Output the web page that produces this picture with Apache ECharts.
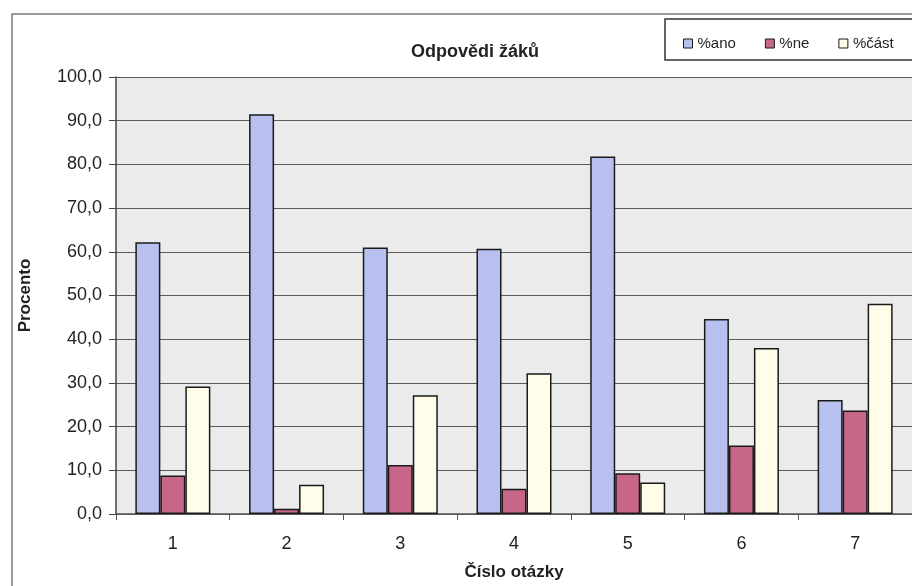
<!DOCTYPE html>
<html>
<head>
<meta charset="utf-8">
<script src="https://cdn.jsdelivr.net/npm/echarts@6/dist/echarts.min.js"></script>
<style>html,body{margin:0;padding:0;background:#fff;}#c{width:912px;height:586px;}</style>
</head>
<body>
<div id="c"></div>
<script>
const categories = ['1', '2', '3', '4', '5', '6', '7'];
const seriesNames = ['%ano', '%ne', '%část'];
const ano = [62.2, 91.5, 61.0, 60.7, 81.8, 44.6, 26.1];
const ne = [8.8, 1.2, 11.2, 5.8, 9.3, 15.7, 23.7];
const cast = [29.2, 6.7, 27.2, 32.2, 7.2, 38.0, 48.1];
const yTicks = [0, 10, 20, 30, 40, 50, 60, 70, 80, 90, 100];

const font = 'Liberation Sans, Arial, sans-serif';
const colors = ['#b8c0f0', '#c8668a', '#fffdea'];
const chart = echarts.init(document.getElementById('c'));
const mk = (name, data, i) => ({
  name, type: 'bar', data, barWidth: 25, barGap: '0%',
  itemStyle: { color: colors[i], borderColor: '#1a1a1a', borderWidth: 1.5 },
  emphasis: { disabled: true }
});
chart.setOption({
  animation: false,
  textStyle: { fontFamily: font },
  graphic: [
    { type: 'rect', shape: { x: 12, y: 14, width: 1000, height: 700 }, style: { fill: 'none', stroke: '#7a7a7a', lineWidth: 1.5 }, z: -1 },
    { type: 'rect', shape: { x: 665, y: 19, width: 300, height: 41 }, style: { fill: '#fff', stroke: '#333', lineWidth: 1.5 }, z: 0 }
  ],
  title: {
    text: 'Odpovědi žáků', left: 470, top: 38, textAlign: 'center',
    textStyle: { fontFamily: font, fontSize: 18, fontWeight: 'bold', color: '#222' }
  },
  legend: {
    data: seriesNames, left: 678, top: 31, width: 400, orient: 'horizontal',
    itemWidth: 9, itemHeight: 9, itemGap: 29,
    icon: 'rect', z: 5,
    itemStyle: { borderWidth: 1 },
    textStyle: { fontFamily: font, fontSize: 15, color: '#222' }
  },
  grid: { left: 116, top: 77, width: 805, height: 445, show: true, backgroundColor: '#ebebeb', borderWidth: 0 },
  xAxis: {
    type: 'category', data: categories,
    name: 'Číslo otázky', nameLocation: 'middle', nameGap: 50,
    nameTextStyle: { fontFamily: font, fontSize: 17, fontWeight: 'bold', color: '#222' },
    axisLine: { lineStyle: { color: '#555', width: 1.5 } },
    axisTick: { show: true, length: 6, lineStyle: { color: '#555' } },
    axisLabel: { fontFamily: font, fontSize: 18, color: '#222', margin: 21 }
  },
  yAxis: {
    type: 'value', min: 0, max: 100, interval: 10,
    name: 'Procento', nameLocation: 'middle', nameGap: 82, nameRotate: 90,
    nameTextStyle: { fontFamily: font, fontSize: 17, fontWeight: 'bold', color: '#222' },
    axisLine: { show: true, lineStyle: { color: '#444', width: 1.5 } },
    axisTick: { show: true, length: 7, lineStyle: { color: '#444' } },
    axisLabel: {
      fontFamily: font, fontSize: 18, color: '#222', margin: 14,
      formatter: v => yTicks.includes(v) ? v.toFixed(1).replace('.', ',') : ''
    },
    splitLine: { lineStyle: { color: '#5a5a5a', width: 1 } }
  },
  series: [mk(seriesNames[0], ano, 0), mk(seriesNames[1], ne, 1), mk(seriesNames[2], cast, 2)]
});
</script>
</body>
</html>
